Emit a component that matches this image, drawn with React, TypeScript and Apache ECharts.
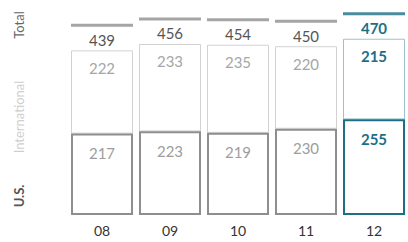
import React, { useEffect, useRef } from "react";
import * as echarts from "echarts";

const years = ["08", "09", "10", "11", "12"];
const usValues = [217, 223, 219, 230, 255];
const intlValues = [222, 233, 235, 220, 215];
const totals = [439, 456, 454, 450, 470];
const highlightIndex = 4;

const TEAL = "#1d6f86";
const FONT = "Lato, 'Open Sans', sans-serif";

export default function App() {
  const ref = useRef<HTMLDivElement>(null);

  useEffect(() => {
    if (!ref.current) return;
    const chart = echarts.init(ref.current, undefined, { renderer: "svg" });
    const hi = (i: number) => i === highlightIndex;

    chart.setOption({
      animation: false,
      textStyle: { fontFamily: FONT },
      grid: { left: 68, top: 0, width: 346, height: 215 },
      xAxis: {
        type: "category",
        data: years,
        axisLine: { show: false },
        axisTick: { show: false },
        axisLabel: { color: "#333", fontSize: 14, margin: 8, fontFamily: FONT },
      },
      yAxis: {
        type: "value",
        min: 0,
        max: 573.3,
        show: false,
        splitLine: { show: false },
      },
      graphic: [
        {
          type: "text",
          x: 19,
          y: 25,
          rotation: Math.PI / 2,
          style: {
            text: "Total",
            fill: "#666",
            font: `13px ${FONT}`,
            textAlign: "center",
            textVerticalAlign: "middle",
          },
        },
        {
          type: "text",
          x: 19,
          y: 117,
          rotation: Math.PI / 2,
          style: {
            text: "International",
            fill: "#cfcfcf",
            font: `13px ${FONT}`,
            textAlign: "center",
            textVerticalAlign: "middle",
          },
        },
        {
          type: "text",
          x: 19,
          y: 196,
          rotation: Math.PI / 2,
          style: {
            text: "U.S.",
            fill: "#555",
            font: `bold 13px ${FONT}`,
            textAlign: "center",
            textVerticalAlign: "middle",
          },
        },
      ],
      series: [
        {
          name: "U.S.",
          type: "bar",
          stack: "a",
          barWidth: 62,
          z: 3,
          silent: true,
          label: {
            show: true,
            position: "insideTop",
            distance: 12,
            fontSize: 15,
            lineHeight: 15,
            fontFamily: FONT,
          },
          data: usValues.map((v, i) => ({
            value: v,
            itemStyle: {
              color: "#ffffff",
              borderColor: hi(i) ? TEAL : "#8e8e8e",
              borderWidth: 2,
            },
            label: {
              color: hi(i) ? TEAL : "#9d9d9d",
              fontWeight: hi(i) ? "bold" : "normal",
            },
          })),
        },
        {
          name: "International",
          type: "bar",
          stack: "a",
          barWidth: 62,
          z: 2,
          silent: true,
          label: {
            show: true,
            position: "insideTop",
            distance: 10,
            fontSize: 15,
            lineHeight: 15,
            fontFamily: FONT,
          },
          data: intlValues.map((v, i) => ({
            value: v,
            itemStyle: {
              color: "#ffffff",
              borderColor: hi(i) ? "#9cc3cd" : "#d2d2d2",
              borderWidth: 1,
            },
            label: {
              color: hi(i) ? TEAL : "#a6a6a6",
              fontWeight: hi(i) ? "bold" : "normal",
            },
          })),
        },
        {
          name: "Total line",
          type: "scatter",
          silent: true,
          symbol: "rect",
          symbolSize: [62, 3],
          symbolOffset: [0, -25],
          z: 4,
          data: totals.map((v, i) => ({
            value: v,
            itemStyle: { color: hi(i) ? TEAL : "#8f8f8f" },
          })),
        },
        {
          name: "Total",
          type: "bar",
          barGap: "-100%",
          barWidth: 62,
          z: 5,
          silent: true,
          itemStyle: { color: "transparent" },
          label: {
            show: true,
            position: "top",
            distance: 3,
            fontSize: 15,
            lineHeight: 15,
            fontFamily: FONT,
          },
          data: totals.map((v, i) => ({
            value: v,
            label: {
              color: hi(i) ? TEAL : "#555",
              fontWeight: hi(i) ? 700 : 400,
            },
          })),
        },
      ],
    });

    return () => chart.dispose();
  }, []);

  return (
    <div
      ref={ref}
      style={{ position: "fixed", left: 0, top: 0, width: 408, height: 242, background: "#fff" }}
    />
  );
}
